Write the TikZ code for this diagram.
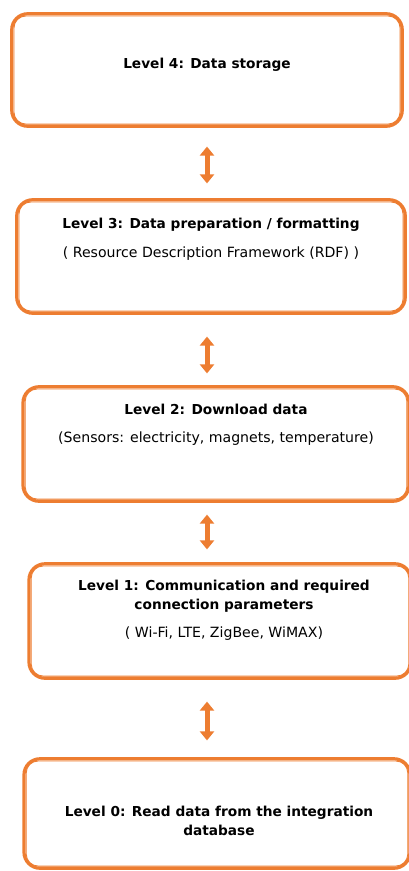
\documentclass[tikz,border=0pt]{standalone}
\usepackage{fontspec}
\setmainfont{DejaVu Sans}
\usetikzlibrary{arrows.meta}

\definecolor{boxorange}{HTML}{ED7D31}
\tikzset{
    levelbox/.style={rectangle, draw=boxorange, line width=3.2pt, rounded corners=16pt},
    innerline/.style={draw=boxorange, line width=0.9pt, rounded corners=12pt},
    leveltext/.style={align=center, font=\fontsize{14.1}{19}\selectfont},
    updown/.style={draw=boxorange, line width=5pt, {Triangle[width=14pt,length=9pt]}-{Triangle[width=14pt,length=9pt]}}
}
\newcommand{\lvl}[1]{{\fontsize{13.7}{19}\selectfont\bfseries #1}}

\begin{document}
\begin{tikzpicture}[x=1pt,y=1pt]
    \useasboundingbox (0,0) rectangle (409,-871);
    \clip (0,0) rectangle (409,-871);
    % the five levels
    \node[levelbox, minimum width=390.5pt, minimum height=112.5pt] (l4) at (207,-70) {};
    \node[levelbox, minimum width=388.5pt, minimum height=113.5pt] (l3) at (211,-256.5) {};
    \node[levelbox, minimum width=386pt, minimum height=114.5pt] (l2) at (216,-444) {};
    \node[levelbox, minimum width=382pt, minimum height=114.5pt] (l1) at (220,-621) {};
    \node[levelbox, minimum width=386pt, minimum height=109.5pt] (l0) at (217,-813.5) {};
    \foreach \n in {l4,l3,l2,l1,l0}
        \draw[innerline] ([shift={(3.8pt,-3.8pt)}]\n.north west) rectangle ([shift={(-3.8pt,3.8pt)}]\n.south east);
    % texts
    \node[leveltext] (t4) at (207,-65) {\lvl{Level 4: Data storage}};
    \node[leveltext] (t3) at (211,-239.5) {\lvl{Level 3: Data preparation / formatting}\\[10pt]( Resource Description Framework (RDF) )};
    \node[leveltext] (t2) at (216,-425) {\lvl{Level 2: Download data}\\[9pt](Sensors: electricity, magnets, temperature)};
    \node[leveltext] (t1) at (224,-610) {\lvl{Level 1: Communication and required}\\\lvl{connection parameters}\\[9pt]( Wi-Fi, LTE, ZigBee, WiMAX)};
    \node[leveltext] (t0) at (219,-820.5) {\lvl{Level 0: Read data from the integration}\\\lvl{database}};
    % arrows between levels
    \coordinate (ax) at (207,0);
    \draw[updown, shorten <=18.75pt, shorten >=14.75pt] (l4.south -| ax) -- (l3.north -| ax);
    \draw[updown, shorten <=21.75pt, shorten >=11.75pt] (l3.south -| ax) -- (l2.north -| ax);
    \draw[updown, shorten <=11.75pt, shorten >=12.75pt] (l2.south -| ax) -- (l1.north -| ax);
    \draw[updown, shorten <=21.75pt, shorten >=16.75pt] (l1.south -| ax) -- (l0.north -| ax);
\end{tikzpicture}
\end{document}
